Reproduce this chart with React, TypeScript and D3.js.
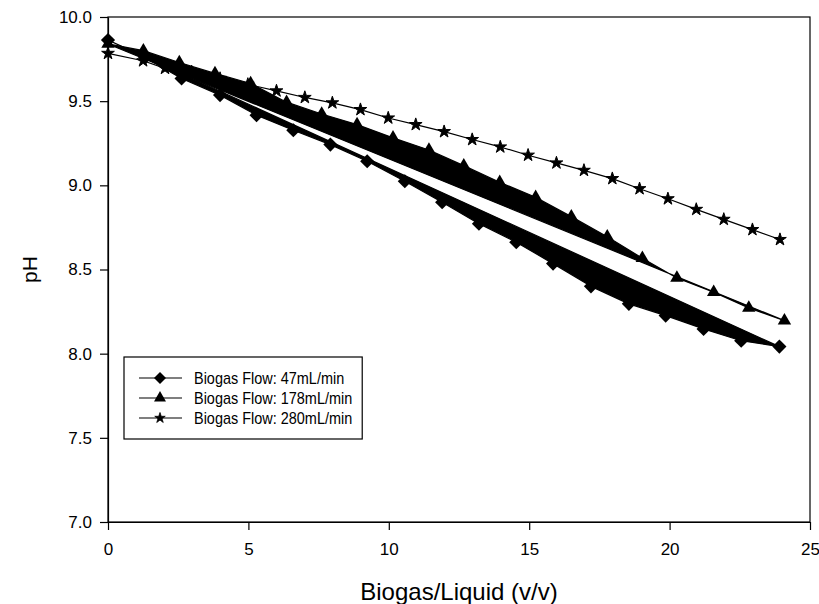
import React, { useEffect, useRef } from "react";
import * as d3 from "d3";

// ---- data ----
const xTicks = [0, 5, 10, 15, 20, 25];
const yTicks = [7.0, 7.5, 8.0, 8.5, 9.0, 9.5, 10.0];

const flow47X = [0, 1.32, 2.62, 3.99, 5.29, 6.6, 7.92, 9.23, 10.57, 11.9, 13.21, 14.54, 15.85, 17.2, 18.55, 19.86, 21.21, 22.55, 23.91];
const flow47Y = [9.863, 9.76, 9.635, 9.536, 9.417, 9.327, 9.242, 9.143, 9.024, 8.9, 8.772, 8.662, 8.535, 8.4, 8.296, 8.226, 8.147, 8.077, 8.042];

const flow178X = [0, 1.26, 2.54, 3.81, 5.08, 6.36, 7.61, 8.87, 10.15, 11.43, 12.67, 13.95, 15.23, 16.5, 17.78, 19.03, 20.26, 21.57, 22.82, 24.09];
const flow178Y = [9.84, 9.8, 9.73, 9.665, 9.605, 9.494, 9.424, 9.361, 9.282, 9.21, 9.117, 9.018, 8.929, 8.814, 8.695, 8.567, 8.45, 8.365, 8.272, 8.196];

const flow280X = [0, 1.25, 2.03, 2.98, 3.99, 4.98, 6.0, 7.01, 7.99, 8.99, 9.98, 10.96, 11.97, 12.97, 13.97, 14.96, 15.97, 16.95, 17.96, 18.93, 19.94, 20.95, 21.93, 22.95, 23.93];
const flow280Y = [9.784, 9.74, 9.695, 9.674, 9.635, 9.6, 9.561, 9.522, 9.49, 9.45, 9.4, 9.361, 9.319, 9.272, 9.228, 9.179, 9.133, 9.089, 9.04, 8.98, 8.92, 8.857, 8.798, 8.737, 8.678];

const seriesNames = ["Biogas Flow: 47mL/min", "Biogas Flow: 178mL/min", "Biogas Flow: 280mL/min"];

const W = 819;
const H = 604;
const FONT = "Arial, 'Liberation Sans', sans-serif";

export default function App() {
  const ref = useRef<SVGSVGElement | null>(null);

  useEffect(() => {
    const svg = d3.select(ref.current);
    svg.selectAll("*").remove();

    const x = d3.scaleLinear().domain([0, 25]).range([108, 810]);
    const y = d3.scaleLinear().domain([7, 10]).range([522, 17]);

    const diamond = d3.symbol().type(d3.symbolSquare).size(100)();
    const triangle = d3.symbol().type(d3.symbolTriangle).size(78)();
    const star = d3.symbol().type(d3.symbolStar).size(50)();
    const diamondL = d3.symbol().type(d3.symbolSquare).size(72)();
    const triangleL = d3.symbol().type(d3.symbolTriangle).size(62)();
    const starL = d3.symbol().type(d3.symbolStar).size(34)();

    // frame
    svg.append("rect")
      .attr("x", x(0)).attr("y", y(10))
      .attr("width", x(25) - x(0)).attr("height", y(7) - y(10))
      .attr("fill", "none").attr("stroke", "#000").attr("stroke-width", 1.2);

    // axes
    const gx = svg.append("g").attr("transform", `translate(0,${y(7)})`)
      .call(d3.axisBottom(x).tickValues(xTicks).tickSize(8).tickSizeOuter(0).tickPadding(13).tickFormat(d3.format("d")));
    const gy = svg.append("g").attr("transform", `translate(${x(0)},0)`)
      .call(d3.axisLeft(y).tickValues(yTicks).tickSize(8).tickSizeOuter(0).tickPadding(8).tickFormat(d3.format(".1f")));
    [gx, gy].forEach((g) => {
      g.select(".domain").attr("stroke", "#000").attr("stroke-width", 1.2);
      g.selectAll(".tick line").attr("stroke", "#000").attr("stroke-width", 1.2);
      g.selectAll(".tick text").attr("fill", "#000").style("font-family", FONT).style("font-size", "17px");
    });

    const line = d3.line<[number, number]>().x((d) => x(d[0])).y((d) => y(d[1]));

    const drawSeries = (xs: number[], ys: number[], sym: string, filled: boolean) => {
      const pts: [number, number][] = xs.map((v, i) => [v, ys[i]]);
      svg.append("path")
        .attr("d", line(pts) + (filled ? "Z" : ""))
        .attr("fill", filled ? "#000" : "none")
        .attr("stroke", "#000").attr("stroke-width", 1.2)
        .attr("stroke-linejoin", "round");
      svg.append("g").selectAll("path").data(pts).join("path")
        .attr("d", sym)
        .attr("transform", (d) => `translate(${x(d[0])},${y(d[1])})` + (sym === diamond ? " rotate(45)" : ""))
        .attr("fill", "#000")
        .attr("stroke", sym === star ? "#000" : "none")
        .attr("stroke-width", 1)
        .attr("stroke-linejoin", "round");
    };

    drawSeries(flow178X, flow178Y, triangle, true);
    drawSeries(flow280X, flow280Y, star, false);
    drawSeries(flow47X, flow47Y, diamond, true);

    // axis titles
    svg.append("text")
      .attr("x", (x(0) + x(25)) / 2).attr("y", 600)
      .attr("text-anchor", "middle")
      .style("font-family", FONT).style("font-size", "24px")
      .text("Biogas/Liquid (v/v)");
    svg.append("text")
      .attr("transform", `translate(37,${(y(7) + y(10)) / 2}) rotate(-90)`)
      .attr("text-anchor", "middle")
      .style("font-family", FONT).style("font-size", "21px")
      .text("pH");

    // legend
    const lg = svg.append("g");
    const legX = 124, legY = 357, rowH = 20, firstRow = 21;
    const rect = lg.append("rect")
      .attr("x", legX).attr("y", legY).attr("height", firstRow * 2 + rowH * 2)
      .attr("fill", "#fff").attr("stroke", "#000").attr("stroke-width", 1.2);
    const syms = [diamondL, triangleL, starL];
    let maxW = 0;
    seriesNames.forEach((name, i) => {
      const cy = legY + firstRow + i * rowH;
      lg.append("line").attr("x1", 139).attr("x2", 182).attr("y1", cy).attr("y2", cy)
        .attr("stroke", "#000").attr("stroke-width", 1.2);
      lg.append("path").attr("d", syms[i])
        .attr("transform", `translate(160,${cy})` + (i === 0 ? " rotate(45)" : ""))
        .attr("fill", "#000")
        .attr("stroke", i === 2 ? "#000" : "none").attr("stroke-width", 0.8);
      const t = lg.append("text").attr("x", 194).attr("y", cy).attr("dy", "0.36em")
        .style("font-family", FONT).style("font-size", "17px").text(name);
      const node = t.node() as SVGTextElement;
      const natural = node.getComputedTextLength();
      const squeezed = natural * 0.85;
      t.attr("textLength", squeezed).attr("lengthAdjust", "spacingAndGlyphs");
      maxW = Math.max(maxW, squeezed);
    });
    rect.attr("width", 194 + maxW + 10 - legX);
  }, []);

  return (
    <svg ref={ref} width={W} height={H}
      style={{ position: "absolute", left: 0, top: 0, background: "#fff" }} />
  );
}
